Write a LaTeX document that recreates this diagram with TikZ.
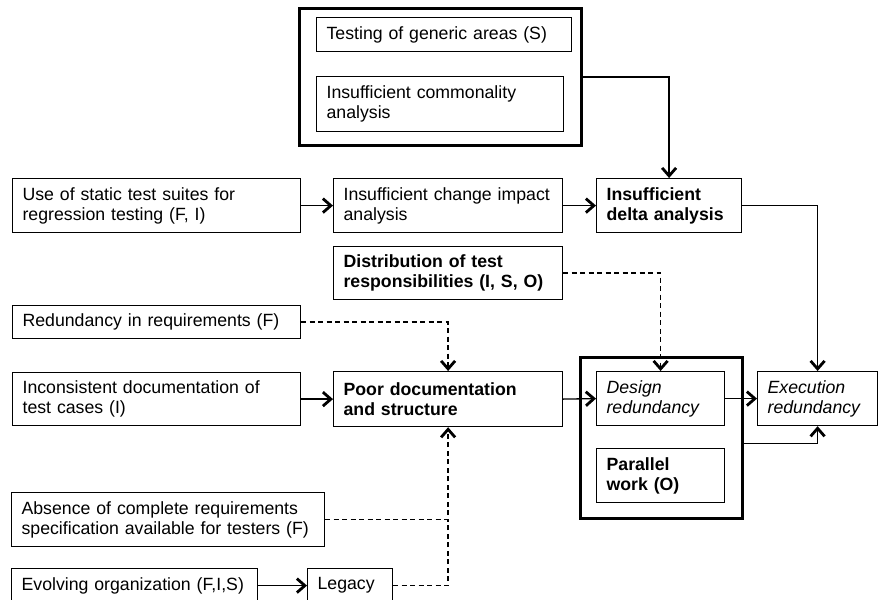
\documentclass[tikz,border=0pt]{standalone}
\usepackage{fontspec}
\setmainfont{Liberation Sans}
\usepackage{tikz}
\usetikzlibrary{positioning,arrows.meta}
\newcommand\boxfont{\fontsize{17.7pt}{20pt}\selectfont}
\tikzset{
  cause/.style={draw, line width=1.2pt, anchor=north west, align=left, inner xsep=10pt, inner ysep=2pt},
  boldcause/.style={cause, font=\boxfont\bfseries},
  effect/.style={cause, font=\boxfont\itshape},
  group/.style={draw, line width=3pt, anchor=north west, inner sep=0pt},
  arrow/.style={-{Straight Barb[length=8pt,width=14pt,line width=2.8pt]}, line width=1.3pt},
  dasharrow/.style={arrow, dash pattern=on 5pt off 3.5pt},
  dashline/.style={line width=1.3pt, dash pattern=on 5pt off 3.5pt}
}

\begin{document}
\begin{tikzpicture}[x=1pt, y=-1pt, font=\boxfont]
  \useasboundingbox (0,0) rectangle (879,600);

  \node[group, minimum width=282pt, minimum height=137pt] (grpTop) at (298,7) {};
  \node[cause, text width=235pt, minimum height=34pt] (generic) at (316,17) {Testing of generic areas (S)};
  \node[cause, text width=227pt, minimum height=55pt] (common) at (316,76) {Insufficient commonality\\analysis};

  \node[cause, text width=268pt, minimum height=54pt] (static) at (12,178) {Use of static test suites for\\regression testing (F, I)};
  \node[cause, text width=209pt, minimum height=54pt] (change) at (333,178) {Insufficient change impact\\analysis};
  \node[boldcause, text width=125pt, minimum height=54pt] (delta) at (596,178) {Insufficient\\delta analysis};
  \node[boldcause, text width=209pt, minimum height=53pt] (distrib) at (333,246) {Distribution of test\\responsibilities (I, S, O)};
  \node[cause, text width=268pt, minimum height=33pt] (redund) at (12,305) {Redundancy in requirements (F)};

  \node[cause, text width=268pt, minimum height=53pt] (incons) at (12,372) {Inconsistent documentation of\\test cases (I)};
  \node[boldcause, text width=209pt, minimum height=55pt] (poor) at (333,371) {Poor documentation\\and structure};

  \node[group, minimum width=162pt, minimum height=161pt] (grpDesign) at (579,356) {};
  \node[effect, text width=108pt, minimum height=54pt] (design) at (596,371) {Design\\redundancy};
  \node[boldcause, text width=108pt, minimum height=54pt] (parallel) at (596,448) {Parallel\\work (O)};
  \node[effect, text width=100pt, minimum height=54pt] (exec) at (757,371) {Execution\\redundancy};

  \node[cause, text width=293pt, minimum height=54pt] (absence) at (11,492) {Absence of complete requirements\\specification available for testers (F)};
  \node[cause, text width=226pt, minimum height=34pt] (evolving) at (11,568) {Evolving organization (F,I,S)};
  \node[cause, text width=65pt, minimum height=34pt] (legacy) at (307,568) {Legacy};

  \draw[arrow] (grpTop.east) -| (delta.north);
  \draw[arrow] (static.east) -- (change.west);
  \draw[arrow] (change.east) -- (delta.west);
  \draw[arrow] (delta.east) -| (exec.north);
  \draw[dasharrow] (distrib.east) -| (design.north);
  \draw[dasharrow] (redund.east) -| (poor.north);
  \draw[arrow] (incons.east) -- (poor.west);
  \draw[arrow] (poor.east) -- (design.west);
  \draw[arrow] (design.east) -- (exec.west);
  \draw[arrow] ([yshift=-5.5pt]grpDesign.east) -| (exec.south);
  \draw[arrow] (evolving.east) -- (legacy.west);
  \draw[dasharrow] (absence.east) -| (poor.south);
  \draw[dashline] (legacy.east) -| (absence.east -| poor.south);
\end{tikzpicture}
\end{document}
